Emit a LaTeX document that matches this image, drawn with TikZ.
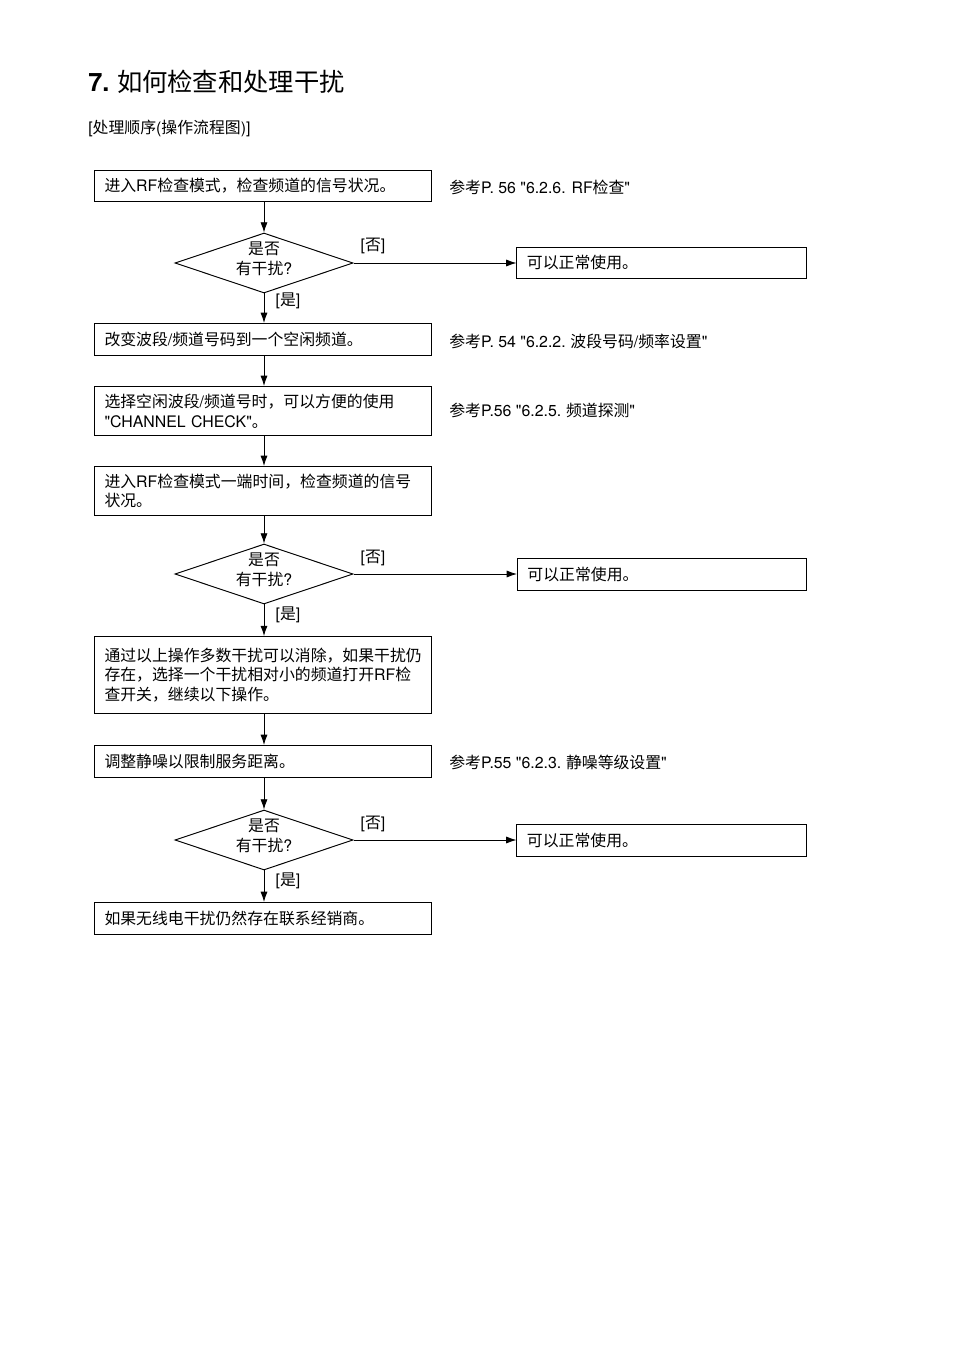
\documentclass[tikz,border=0pt]{standalone}
\usepackage{fontspec}
\setmainfont{Noto Sans CJK SC}
\newfontfamily\hvfont{TeX Gyre Heros}
\newcommand\hv[1]{{\hvfont #1}}
\usetikzlibrary{arrows.meta,shapes.geometric}
\begin{document}
\begin{tikzpicture}[x=0.624pt,y=-0.624pt,
  every node/.style={font=\fontsize{9.9pt}{12.2pt}\selectfont},
  box/.style={draw,line width=0.6pt,minimum width=210.3pt,text width=197.8pt,align=left,inner xsep=6.24pt,inner ysep=0pt},
  okbox/.style={draw,line width=0.6pt,minimum width=180.3pt,text width=167.9pt,align=left,inner xsep=6.24pt,inner ysep=0pt,minimum height=19.6pt},
  dia/.style={draw,line width=0.6pt,shape=diamond,minimum width=111.1pt,minimum height=37.4pt,inner sep=0pt},
  diatext/.style={align=center,inner sep=0pt,font=\fontsize{9.9pt}{12.4pt}\selectfont},
  reftext/.style={anchor=west,inner sep=0pt},
  lbl/.style={inner sep=0pt},
  arr/.style={draw,line width=0.55pt,-{Latex[length=6.4pt,width=4.4pt]}}
]
\path[use as bounding box] (0,0) rectangle (954,1348);

% title
\node[anchor=west,inner sep=0pt,font=\fontsize{15.8pt}{18pt}\selectfont] (title) at (88,82) {\hv{\bfseries 7.} 如何检查和处理干扰};
\node[anchor=west,inner sep=0pt] (subtitle) at (88,128) {\hv{[}处理顺序\hv{(}操作流程图\hv{)]}};

% main boxes
\node[box,minimum height=19.3pt] (b1) at (263,186) {进入\hv{RF}检查模式，检查频道的信号状况。};
\node[dia] (d1) at (264,263) {};
\node[diatext] (d1t) at (264,259) {是否\\有干扰\hv{?}};
\node[box,minimum height=20pt] (b2) at (263,339.5) {改变波段\hv{/}频道号码到一个空闲频道。};
\node[box,minimum height=30.6pt] (b3) at (263,411) {选择空闲波段\hv{/}频道号时，可以方便的使用\\\hv{"CHANNEL CHECK"}。};
\node[box,minimum height=30.6pt] (b4) at (263,491) {进入\hv{RF}检查模式一端时间，检查频道的信号\\状况。};
\node[dia] (d2) at (264,574) {};
\node[diatext] (d2t) at (264,570) {是否\\有干扰\hv{?}};
\node[box,minimum height=48pt] (b5) at (263,675) {通过以上操作多数干扰可以消除，如果干扰仍\\存在，选择一个干扰相对小的频道打开\hv{RF}检\\查开关，继续以下操作。};
\node[box,minimum height=20pt] (b6) at (263,761.5) {调整静噪以限制服务距离。};
\node[dia] (d3) at (264,840) {};
\node[diatext] (d3t) at (264,836) {是否\\有干扰\hv{?}};
\node[box,minimum height=20pt] (b7) at (263,918.5) {如果无线电干扰仍然存在联系经销商。};

% right boxes
\node[okbox] (ok1) at (661.5,263) {可以正常使用。};
\node[okbox] (ok2) at (662,574.5) {可以正常使用。};
\node[okbox] (ok3) at (661.5,840.5) {可以正常使用。};

% reference texts
\node[reftext] (r1) at (449,187) {参考\hv{P. 56 "6.2.6. RF}检查\hv{"}};
\node[reftext] (r2) at (449,341) {参考\hv{P. 54 "6.2.2.} 波段号码\hv{/}频率设置\hv{"}};
\node[reftext] (r3) at (449,410) {参考\hv{P.56 "6.2.5.} 频道探测\hv{"}};
\node[reftext] (r4) at (449,762) {参考\hv{P.55 "6.2.3.} 静噪等级设置\hv{"}};

% labels
\node[lbl] (n1) at (373,246) {\hv{[}否\hv{]}};
\node[lbl] (y1) at (288,301) {\hv{[}是\hv{]}};
\node[lbl] (n2) at (373,558) {\hv{[}否\hv{]}};
\node[lbl] (y2) at (288,615) {\hv{[}是\hv{]}};
\node[lbl] (n3) at (373,824) {\hv{[}否\hv{]}};
\node[lbl] (y3) at (288,881) {\hv{[}是\hv{]}};

% connectors
\draw[arr] (d1.north |- b1.south) -- (d1.north);
\draw[arr] (d1.east) -- (ok1.west |- d1.east);
\draw[arr] (d1.south) -- (d1.south |- b2.north);
\draw[arr] (d1.south |- b2.south) -- (d1.south |- b3.north);
\draw[arr] (d1.south |- b3.south) -- (d1.south |- b4.north);
\draw[arr] (d2.north |- b4.south) -- (d2.north);
\draw[arr] (d2.east) -- (ok2.west |- d2.east);
\draw[arr] (d2.south) -- (d2.south |- b5.north);
\draw[arr] (d2.south |- b5.south) -- (d2.south |- b6.north);
\draw[arr] (d3.north |- b6.south) -- (d3.north);
\draw[arr] (d3.east) -- (ok3.west |- d3.east);
\draw[arr] (d3.south) -- (d3.south |- b7.north);
\end{tikzpicture}
\end{document}
